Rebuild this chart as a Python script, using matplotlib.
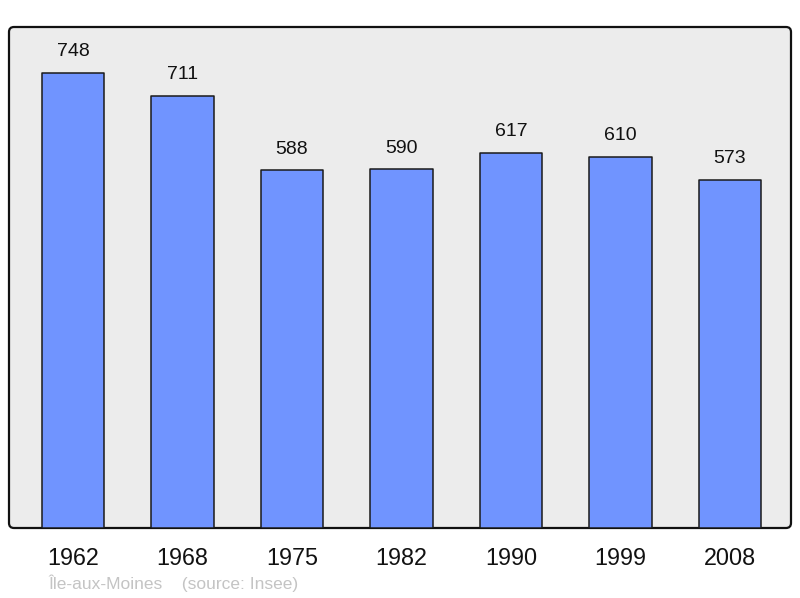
import matplotlib
matplotlib.use("Agg")
import matplotlib.pyplot as plt
from matplotlib.patches import FancyBboxPatch

years = ["1962", "1968", "1975", "1982", "1990", "1999", "2008"]
population = [748, 711, 588, 590, 617, 610, 573]
caption_place = "Île-aux-Moines"
caption_source = "(source: Insee)"

plt.rcParams['font.family'] = ['Liberation Sans', 'DejaVu Sans']

fig = plt.figure(figsize=(8, 5.98), dpi=100)
ax = fig.add_axes([9/800, 70/598, 782/800, 501/598])
ax.set_facecolor('none')
ax.set_zorder(2)
for s in ax.spines.values():
    s.set_visible(False)

# background frame with rounded corners
frame = FancyBboxPatch((0.09, 0.70), 7.82, 5.01,
                       boxstyle="round,pad=0,rounding_size=0.05",
                       transform=fig.dpi_scale_trans,
                       facecolor='#ececec', edgecolor='#111111', linewidth=1.6,
                       zorder=-5)
fig.patches.append(frame)

x = list(range(len(years)))
bars = ax.bar(x, population, width=0.57, color='#7094ff', edgecolor='#1a1a1a',
              linewidth=1.1, joinstyle='round', zorder=2)
for xi, v in zip(x, population):
    ax.text(xi, v + 21, str(v), ha='center', va='bottom', fontsize=14, color='#111111')

ax.set_xlim(-0.585, 6.557)
ax.set_ylim(0, 824)
ax.set_yticks([])
ax.set_xticks(x)
ax.set_xticklabels(years, fontsize=16.8, color='#111111')
ax.tick_params(axis='x', length=0, pad=14)

fig.text(48/800, 1 - 583/598, caption_place + "    " + caption_source,
         fontsize=12.5, color='#c4c4c4', ha='left', va='center')

fig.savefig('out.png', dpi=100)
